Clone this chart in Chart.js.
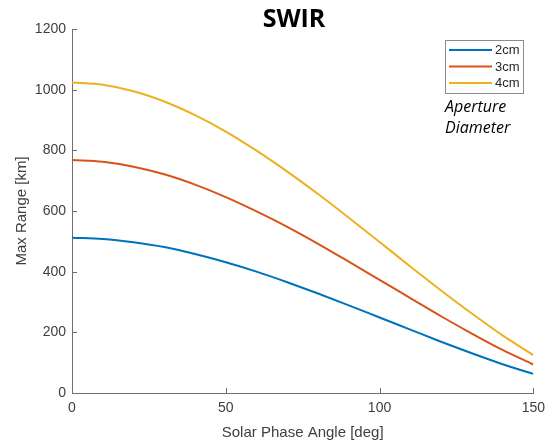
<!DOCTYPE html>
<html>
<head>
<meta charset="utf-8">
<script src="https://cdn.jsdelivr.net/npm/chart.js@4/dist/chart.umd.min.js"></script>
<style>
html,body{margin:0;padding:0;background:#fff;}
#wrap{width:552px;height:442px;position:relative;}
</style>
</head>
<body>
<div id="wrap"><canvas id="c" width="552" height="442"></canvas></div>
<script>
const angles = [0,10,20,30,40,50,60,70,80,90,100,110,120,130,140,150];
const range2cm = [512,508,497,481,458,431,400,365,328,289,249,209,169,131,95,63];
const range3cm = [768,762,746,721,687,646,599,548,492,433,373,313,253,196,142,94];
const range4cm = [1024,1016,995,961,916,862,799,730,656,578,498,417,338,262,190,125];
const seriesLabels = ['2cm','3cm','4cm'];
const seriesColors = ['#0072BD','#D95319','#EDB120'];
const yTicks = [0,200,400,600,800,1000,1200];
const xTicks = [0,50,100,150];
const chartTitle = 'SWIR';
const legendNote = ['Aperture','Diameter'];

function pts(vals){ return angles.map((a,i)=>({x:a,y:vals[i]})); }

const inwardTicks = {
  id:'inwardTicks',
  afterDraw(chart){
    const ctx = chart.ctx, xs = chart.scales.x, ys = chart.scales.y;
    const ca = chart.chartArea;
    ctx.save();
    ctx.strokeStyle = '#6e6e6e';
    ctx.lineWidth = 1;
    ctx.beginPath();
    yTicks.forEach(v=>{ const p = Math.round(ys.getPixelForValue(v))+0.5; ctx.moveTo(ca.left, p); ctx.lineTo(ca.left+5, p); });
    xTicks.forEach(v=>{ const p = Math.round(xs.getPixelForValue(v))+0.5; ctx.moveTo(p, ca.bottom); ctx.lineTo(p, ca.bottom-5); });
    ctx.stroke();
    // title
    ctx.fillStyle = '#000';
    ctx.font = 'bold 25px "Open Sans"';
    ctx.textAlign = 'center';
    ctx.textBaseline = 'alphabetic';
    ctx.fillText(chartTitle, 294, 27);
    // legend box
    const bx = 445.5, by = 40.5, bw = 78, bh = 53;
    ctx.fillStyle = '#fff';
    ctx.fillRect(bx,by,bw,bh);
    ctx.strokeStyle = '#8c8c8c';
    ctx.strokeRect(bx,by,bw,bh);
    ctx.font = '13px "Liberation Sans"';
    ctx.textAlign = 'left';
    ctx.textBaseline = 'middle';
    chart.data.datasets.forEach((ds,i)=>{
      const yy = 50 + i*16.5;
      ctx.strokeStyle = ds.borderColor;
      ctx.lineWidth = 2;
      ctx.beginPath(); ctx.moveTo(449,yy); ctx.lineTo(492,yy); ctx.stroke();
      ctx.fillStyle = '#262626';
      ctx.fillText(ds.label, 495, yy+0.5);
    });
    ctx.fillStyle = '#000';
    ctx.font = 'italic 16px "Open Sans"';
    ctx.textBaseline = 'alphabetic';
    ctx.fillText(legendNote[0], 445, 112);
    ctx.fillText(legendNote[1], 445, 133);
    ctx.restore();
  }
};

new Chart(document.getElementById('c'), {
  type:'line',
  data:{
    datasets:[
      {label:seriesLabels[0], data:pts(range2cm), borderColor:seriesColors[0]},
      {label:seriesLabels[1], data:pts(range3cm), borderColor:seriesColors[1]},
      {label:seriesLabels[2], data:pts(range4cm), borderColor:seriesColors[2]}
    ].map(d=>Object.assign(d,{borderWidth:2,pointRadius:0,cubicInterpolationMode:'monotone',fill:false}))
  },
  options:{
    responsive:false,
    animation:false,
    events:[],
    layout:{padding:{top:29,right:18,left:0,bottom:0}},
    plugins:{legend:{display:false},title:{display:false},tooltip:{enabled:false}},
    scales:{
      x:{
        type:'linear', min:0, max:150,
        afterBuildTicks(s){ s.ticks = xTicks.map(v=>({value:v})); },
        afterFit(s){ s.height = 49; },
        grid:{drawOnChartArea:false, drawTicks:false},
        border:{display:true, color:'#6e6e6e', width:1},
        ticks:{color:'#404040', font:{family:'"Liberation Sans"', size:14}, padding:7, maxRotation:0, callback:v=>String(v)},
        title:{display:true, text:'Solar Phase Angle [deg]', color:'#404040', font:{family:'"Liberation Sans"', size:15}, padding:{top:2,bottom:0}}
      },
      y:{
        type:'linear', min:0, max:1200,
        afterBuildTicks(s){ s.ticks = yTicks.map(v=>({value:v})); },
        afterFit(s){ s.width = 72; },
        grid:{drawOnChartArea:false, drawTicks:false},
        border:{display:true, color:'#6e6e6e', width:1},
        ticks:{color:'#404040', font:{family:'"Liberation Sans"', size:14}, padding:6, callback:v=>String(v)},
        title:{display:true, text:'Max Range [km]', color:'#404040', font:{family:'"Liberation Sans"', size:15}, padding:{top:13,bottom:0}}
      }
    }
  },
  plugins:[inwardTicks]
});
</script>
</body>
</html>
